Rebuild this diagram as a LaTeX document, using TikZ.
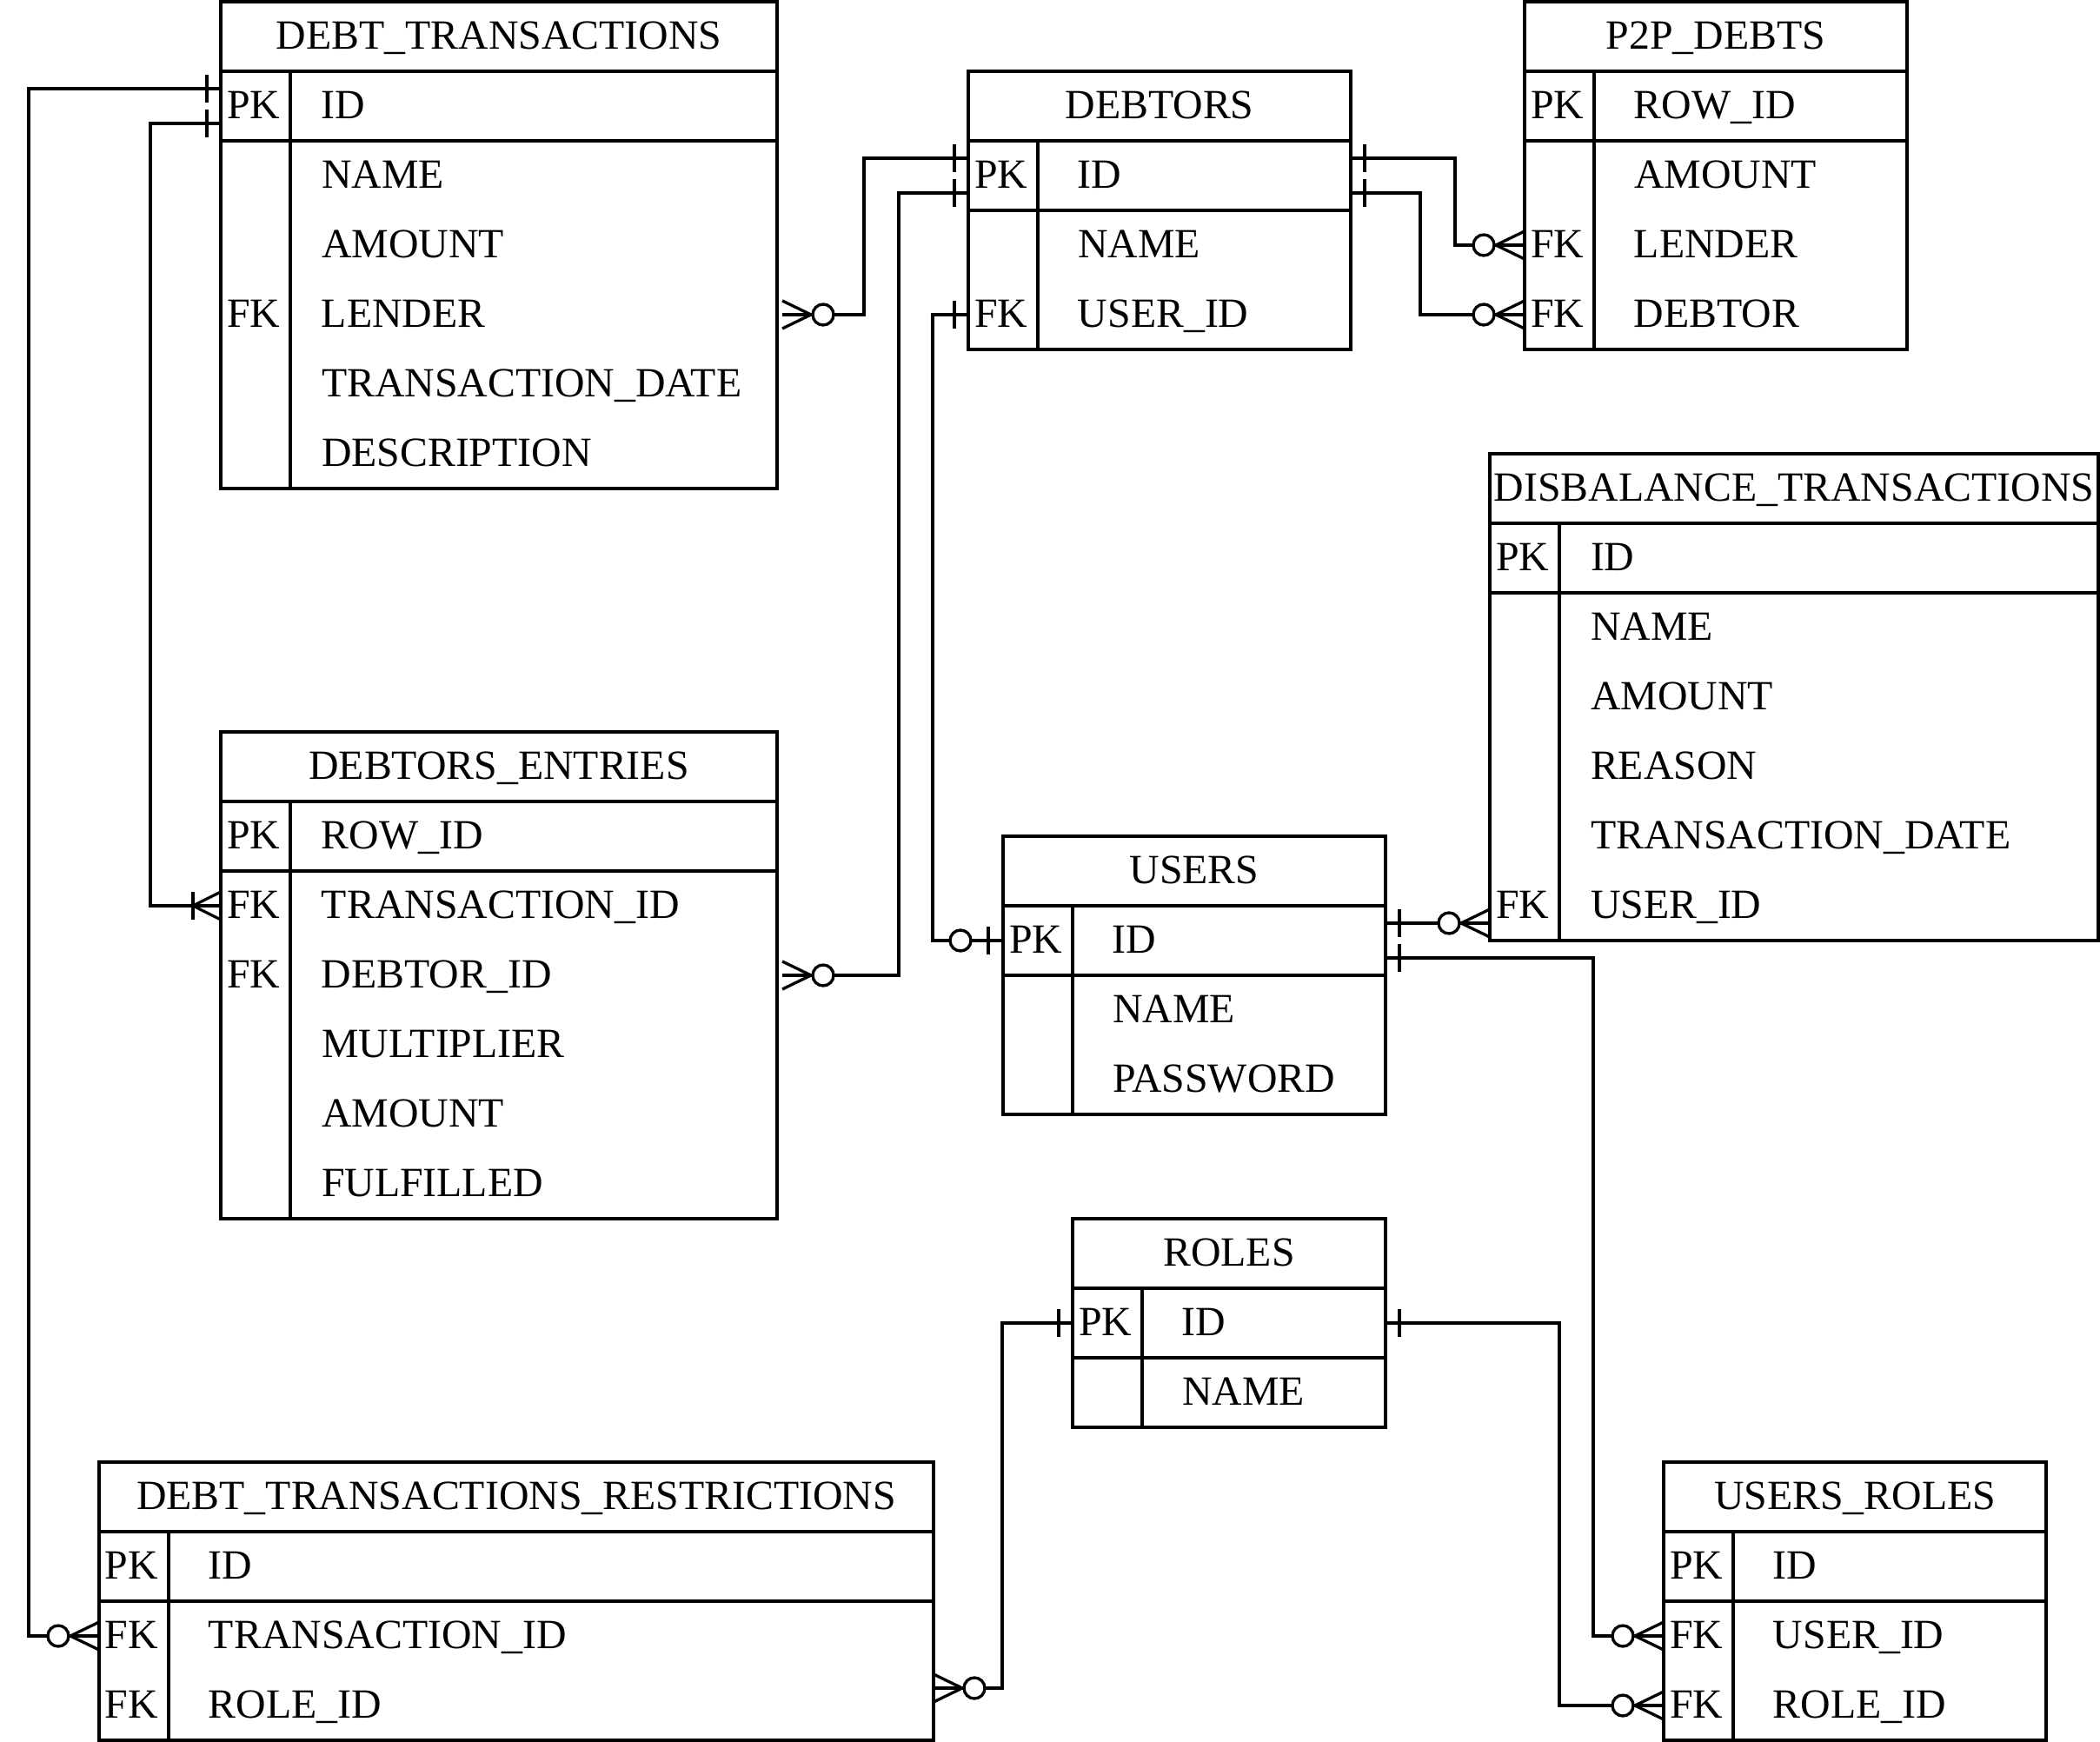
\documentclass[tikz,border=0pt]{standalone}
\usepackage{fontspec}
\setmainfont{Liberation Serif}
\usetikzlibrary{positioning,calc}
% one table row: width, key column box, key, field name
\newcommand{\fld}[4]{\makebox[#1][l]{\hspace*{0.7mm}\makebox[#2][l]{#3}#4}}

\begin{document}
\begin{tikzpicture}[
        line width=0.95pt,
        hdr/.style={draw,anchor=north west,inner sep=0pt,outer sep=0pt,
                    minimum height=8mm,text height=3.85mm,text depth=1mm,
                    font=\fontsize{13.6}{16}\selectfont},
        row/.style={anchor=north west,inner sep=0pt,outer sep=0pt,
                    minimum height=8mm,text height=3.85mm,text depth=1mm,
                    font=\fontsize{13.6}{16}\selectfont},
        bar/.pic={\draw (-0.16,-0.16) -- (-0.16,0.16);},
        zeroone/.pic={\draw (-0.17,-0.16) -- (-0.17,0.16);
                      \draw[fill=white] (-0.49,0) circle (0.12);},
        zeromany/.pic={\draw (0,0.16) -- (-0.33,0) -- (0,-0.16);
                       \draw[fill=white] (-0.47,0) circle (0.12);},
        onemany/.pic={\draw (0,0.16) -- (-0.32,0) -- (0,-0.16);
                      \draw (-0.32,-0.16) -- (-0.32,0.16);}]
        \useasboundingbox (0,0) rectangle (24.16,-20.04);

        % DEBT_TRANSACTIONS
        \node[hdr,minimum width=6.4cm] (dt) at (2.54,-0.02) {DEBT\_TRANSACTIONS};
        \foreach \k/\f [count=\i] in {PK/ID,/NAME,/AMOUNT,FK/LENDER,/TRANSACTION\_DATE,/DESCRIPTION}
          \node[row] (dt-\i) at ([yshift={(1-\i)*8mm}]dt.south west) {\fld{6.4cm}{10.9mm}{\k}{\f}};
        \draw (dt-1.north west) rectangle (dt-6.south east)
              (dt-1.south west) -- (dt-1.south east)
              ([xshift=8mm]dt-1.north west) -- ([xshift=8mm]dt-6.south west);

        % DEBTORS
        \node[hdr,minimum width=4.4cm] (deb) at (11.14,-0.82) {DEBTORS};
        \foreach \k/\f [count=\i] in {PK/ID,/NAME,FK/USER\_ID}
          \node[row] (deb-\i) at ([yshift={(1-\i)*8mm}]deb.south west) {\fld{4.4cm}{11.9mm}{\k}{\f}};
        \draw (deb-1.north west) rectangle (deb-3.south east)
              (deb-1.south west) -- (deb-1.south east)
              ([xshift=8mm]deb-1.north west) -- ([xshift=8mm]deb-3.south west);

        % P2P_DEBTS
        \node[hdr,minimum width=4.4cm] (p2p) at (17.54,-0.02) {P2P\_DEBTS};
        \foreach \k/\f [count=\i] in {PK/ROW\_ID,/AMOUNT,FK/LENDER,FK/DEBTOR}
          \node[row] (p2p-\i) at ([yshift={(1-\i)*8mm}]p2p.south west) {\fld{4.4cm}{11.9mm}{\k}{\f}};
        \draw (p2p-1.north west) rectangle (p2p-4.south east)
              (p2p-1.south west) -- (p2p-1.south east)
              ([xshift=8mm]p2p-1.north west) -- ([xshift=8mm]p2p-4.south west);

        % DISBALANCE_TRANSACTIONS
        \node[hdr,minimum width=7cm] (dis) at (17.14,-5.22) {DISBALANCE\_TRANSACTIONS};
        \foreach \k/\f [count=\i] in {PK/ID,/NAME,/AMOUNT,/REASON,/TRANSACTION\_DATE,FK/USER\_ID}
          \node[row] (dis-\i) at ([yshift={(1-\i)*8mm}]dis.south west) {\fld{7cm}{10.9mm}{\k}{\f}};
        \draw (dis-1.north west) rectangle (dis-6.south east)
              (dis-1.south west) -- (dis-1.south east)
              ([xshift=8mm]dis-1.north west) -- ([xshift=8mm]dis-6.south west);

        % DEBTORS_ENTRIES
        \node[hdr,minimum width=6.4cm] (de) at (2.54,-8.42) {DEBTORS\_ENTRIES};
        \foreach \k/\f [count=\i] in {PK/ROW\_ID,FK/TRANSACTION\_ID,FK/DEBTOR\_ID,/MULTIPLIER,/AMOUNT,/FULFILLED}
          \node[row] (de-\i) at ([yshift={(1-\i)*8mm}]de.south west) {\fld{6.4cm}{10.9mm}{\k}{\f}};
        \draw (de-1.north west) rectangle (de-6.south east)
              (de-1.south west) -- (de-1.south east)
              ([xshift=8mm]de-1.north west) -- ([xshift=8mm]de-6.south west);

        % USERS
        \node[hdr,minimum width=4.4cm] (usr) at (11.54,-9.62) {USERS};
        \foreach \k/\f [count=\i] in {PK/ID,/NAME,/PASSWORD}
          \node[row] (usr-\i) at ([yshift={(1-\i)*8mm}]usr.south west) {\fld{4.4cm}{11.9mm}{\k}{\f}};
        \draw (usr-1.north west) rectangle (usr-3.south east)
              (usr-1.south west) -- (usr-1.south east)
              ([xshift=8mm]usr-1.north west) -- ([xshift=8mm]usr-3.south west);

        % ROLES
        \node[hdr,minimum width=3.6cm] (rol) at (12.34,-14.02) {ROLES};
        \foreach \k/\f [count=\i] in {PK/ID,/NAME}
          \node[row] (rol-\i) at ([yshift={(1-\i)*8mm}]rol.south west) {\fld{3.6cm}{11.9mm}{\k}{\f}};
        \draw (rol-1.north west) rectangle (rol-2.south east)
              (rol-1.south west) -- (rol-1.south east)
              ([xshift=8mm]rol-1.north west) -- ([xshift=8mm]rol-2.south west);

        % DEBT_TRANSACTIONS_RESTRICTIONS
        \node[hdr,minimum width=9.6cm] (dtr) at (1.14,-16.82) {DEBT\_TRANSACTIONS\_RESTRICTIONS};
        \foreach \k/\f [count=\i] in {PK/ID,FK/TRANSACTION\_ID,FK/ROLE\_ID}
          \node[row] (dtr-\i) at ([yshift={(1-\i)*8mm}]dtr.south west) {\fld{9.6cm}{11.9mm}{\k}{\f}};
        \draw (dtr-1.north west) rectangle (dtr-3.south east)
              (dtr-1.south west) -- (dtr-1.south east)
              ([xshift=8mm]dtr-1.north west) -- ([xshift=8mm]dtr-3.south west);

        % USERS_ROLES
        \node[hdr,minimum width=4.4cm] (ur) at (19.14,-16.82) {USERS\_ROLES};
        \foreach \k/\f [count=\i] in {PK/ID,FK/USER\_ID,FK/ROLE\_ID}
          \node[row] (ur-\i) at ([yshift={(1-\i)*8mm}]ur.south west) {\fld{4.4cm}{11.9mm}{\k}{\f}};
        \draw (ur-1.north west) rectangle (ur-3.south east)
              (ur-1.south west) -- (ur-1.south east)
              ([xshift=8mm]ur-1.north west) -- ([xshift=8mm]ur-3.south west);

        % relations
        \coordinate (u1) at ([yshift=2mm]usr-1.east);
        \coordinate (lend) at ([xshift=0.6mm]dt-4.east);
        \coordinate (debt) at ([xshift=0.6mm]de-3.east);
        \draw ([yshift=2mm]dt-1.west) -- ++(-2.21,0) |- (dtr-2.west);
        \draw ([yshift=-2mm]dt-1.west) -- ++(-0.81,0) |- (de-2.west);
        \draw (lend) -- ++(0.94,0) |- ([yshift=2mm]deb-1.west);
        \draw (debt) -- ++(1.34,0) |- ([yshift=-2mm]deb-1.west);
        \draw (deb-3.west) -- ++(-0.41,0) |- (usr-1.west);
        \draw ([yshift=2mm]deb-1.east) -- ++(1.2,0) |- (p2p-3.west);
        \draw ([yshift=-2mm]deb-1.east) -- ++(0.8,0) |- (p2p-4.west);
        \draw (u1) -- (u1 -| dis-6.west);
        \draw ([yshift=-2mm]usr-1.east) -- ++(2.39,0) |- (ur-2.west);
        \draw (rol-1.west) -- ++(-0.81,0) |- ([yshift=2mm]dtr-3.east);
        \draw (rol-1.east) -- ++(2,0) |- (ur-3.west);

        \pic at ([yshift=2mm]dt-1.west) {bar};
        \pic at ([yshift=-2mm]dt-1.west) {bar};
        \pic at (dtr-2.west) {zeromany};
        \pic at (de-2.west) {onemany};
        \pic[xscale=-1] at (lend) {zeromany};
        \pic[xscale=-1] at (debt) {zeromany};
        \pic at ([yshift=2mm]deb-1.west) {bar};
        \pic at ([yshift=-2mm]deb-1.west) {bar};
        \pic at (deb-3.west) {bar};
        \pic at (usr-1.west) {zeroone};
        \pic[xscale=-1] at ([yshift=2mm]deb-1.east) {bar};
        \pic[xscale=-1] at ([yshift=-2mm]deb-1.east) {bar};
        \pic at (p2p-3.west) {zeromany};
        \pic at (p2p-4.west) {zeromany};
        \pic[xscale=-1] at (u1) {bar};
        \pic at (u1 -| dis-6.west) {zeromany};
        \pic[xscale=-1] at ([yshift=-2mm]usr-1.east) {bar};
        \pic at (ur-2.west) {zeromany};
        \pic at (rol-1.west) {bar};
        \pic[xscale=-1] at ([yshift=2mm]dtr-3.east) {zeromany};
        \pic[xscale=-1] at (rol-1.east) {bar};
        \pic at (ur-3.west) {zeromany};
      \end{tikzpicture}
\end{document}
